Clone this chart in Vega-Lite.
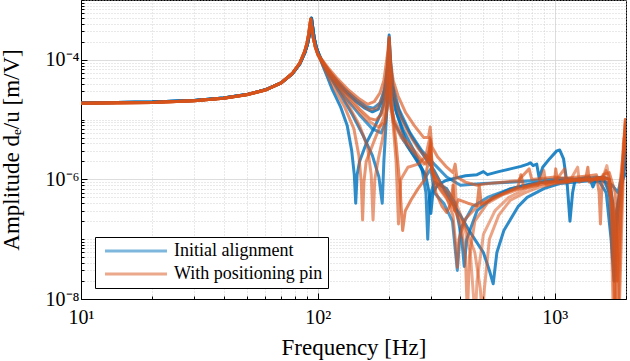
{
  "$schema": "https://vega.github.io/schema/vega-lite/v6.json",
  "width": 545,
  "height": 299,
  "autosize": {"type": "none"},
  "padding": {"left": 81, "top": 0, "right": 4, "bottom": 62},
  "background": "white",
  "config": {
    "view": {"stroke": "black", "strokeWidth": 1},
    "font": "Liberation Serif",
    "axis": {
      "labelFont": "Liberation Serif",
      "titleFont": "Liberation Serif",
      "labelFontSize": 20,
      "titleFontSize": 23,
      "titleFontWeight": "normal",
      "labelColor": "black",
      "titleColor": "black",
      "domainColor": "black",
      "tickColor": "black",
      "gridWidth": 0.8
    }
  },
  "datasets": {
    "series": [
      {"s": "B1", "g": "Initial alignment"},
      {"s": "B2", "g": "Initial alignment"},
      {"s": "B3", "g": "Initial alignment"},
      {"s": "B4", "g": "Initial alignment"},
      {"s": "B5", "g": "Initial alignment"},
      {"s": "O1", "g": "With positioning pin"},
      {"s": "O2", "g": "With positioning pin"},
      {"s": "O3", "g": "With positioning pin"},
      {"s": "O4", "g": "With positioning pin"},
      {"s": "O5", "g": "With positioning pin"},
      {"s": "O6", "g": "With positioning pin"}
    ],
    "curves": [
      {"s":"B2","f":10,"a":1.9e-5},{"s":"B2","f":20,"a":1.97e-5},{"s":"B2","f":30,"a":2.09e-5},{"s":"B2","f":40,"a":2.3e-5},{"s":"B2","f":50,"a":2.62e-5},{"s":"B2","f":60,"a":3.15e-5},{"s":"B2","f":70,"a":4.1e-5},{"s":"B2","f":78,"a":5.8e-5},{"s":"B2","f":84,"a":8.6e-5},{"s":"B2","f":88,"a":1.3e-4},{"s":"B2","f":90.5,"a":1.85e-4},{"s":"B2","f":92,"a":2.6e-4},{"s":"B2","f":93,"a":3.5e-4},{"s":"B2","f":94,"a":4.9e-4},{"s":"B2","f":95,"a":3.6e-4},{"s":"B2","f":96.5,"a":2.3e-4},{"s":"B2","f":98.5,"a":1.6e-4},{"s":"B2","f":101,"a":1.2e-4},
      {"s":"B2","f":105,"a":8e-5},{"s":"B2","f":110,"a":5e-5},{"s":"B2","f":115,"a":3.2e-5},{"s":"B2","f":125,"a":1.6e-5},{"s":"B2","f":133,"a":8e-6},{"s":"B2","f":139,"a":3e-6},{"s":"B2","f":142.5,"a":1.2e-6},{"s":"B2","f":144.5,"a":4e-7},{"s":"B2","f":146.5,"a":1.2e-6},{"s":"B2","f":150,"a":2e-6},{"s":"B2","f":160,"a":4e-6},{"s":"B2","f":175,"a":8e-6},{"s":"B2","f":185,"a":1.3e-5},{"s":"B2","f":193,"a":2.5e-5},{"s":"B2","f":197,"a":5e-5},{"s":"B2","f":200,"a":1.6e-4},{"s":"B2","f":203,"a":6e-5},{"s":"B2","f":210,"a":2.4e-5},{"s":"B2","f":225,"a":1.1e-5},{"s":"B2","f":250,"a":5e-6},{"s":"B2","f":280,"a":2.5e-6},{"s":"B2","f":310,"a":1.4e-6},{"s":"B2","f":340,"a":7e-7},{"s":"B2","f":370,"a":4e-7},{"s":"B2","f":400,"a":2.5e-7},{"s":"B2","f":440,"a":1.3e-7},{"s":"B2","f":500,"a":6e-8},{"s":"B2","f":530,"a":3e-8},{"s":"B2","f":550,"a":1.8e-8},{"s":"B2","f":570,"a":6e-8},{"s":"B2","f":610,"a":1.4e-7},{"s":"B2","f":700,"a":3.5e-7},{"s":"B2","f":765,"a":5e-7},{"s":"B2","f":900,"a":7e-7},{"s":"B2","f":1050,"a":8.5e-7},{"s":"B2","f":1200,"a":9e-7},{"s":"B2","f":1400,"a":9.5e-7},{"s":"B2","f":1550,"a":9e-7},{"s":"B2","f":1650,"a":6e-7},{"s":"B2","f":1730,"a":1e-7},{"s":"B2","f":1780,"a":2e-8},{"s":"B2","f":1830,"a":3e-7},{"s":"B2","f":1950,"a":1.2e-6},{"s":"B2","f":2000,"a":2e-6},

      {"s":"B3","f":10,"a":1.9e-5},{"s":"B3","f":20,"a":1.97e-5},{"s":"B3","f":30,"a":2.09e-5},{"s":"B3","f":40,"a":2.3e-5},{"s":"B3","f":50,"a":2.62e-5},{"s":"B3","f":60,"a":3.15e-5},{"s":"B3","f":70,"a":4.1e-5},{"s":"B3","f":78,"a":5.8e-5},{"s":"B3","f":84,"a":8.6e-5},{"s":"B3","f":88,"a":1.3e-4},{"s":"B3","f":90.5,"a":1.85e-4},{"s":"B3","f":92,"a":2.6e-4},{"s":"B3","f":93,"a":3.5e-4},{"s":"B3","f":94,"a":4.9e-4},{"s":"B3","f":95,"a":3.6e-4},{"s":"B3","f":96.5,"a":2.3e-4},{"s":"B3","f":98.5,"a":1.6e-4},{"s":"B3","f":101,"a":1.2e-4},
      {"s":"B3","f":105,"a":8.5e-5},{"s":"B3","f":115,"a":4.5e-5},{"s":"B3","f":125,"a":2.6e-5},{"s":"B3","f":140,"a":1.2e-5},{"s":"B3","f":155,"a":5.5e-6},{"s":"B3","f":170,"a":2.5e-6},{"s":"B3","f":181,"a":1.1e-6},{"s":"B3","f":187,"a":4e-7},{"s":"B3","f":190,"a":2e-6},{"s":"B3","f":195,"a":1.2e-5},{"s":"B3","f":200,"a":1.1e-4},{"s":"B3","f":204,"a":3.5e-5},{"s":"B3","f":212,"a":1.5e-5},{"s":"B3","f":230,"a":6.5e-6},{"s":"B3","f":255,"a":3e-6},{"s":"B3","f":275,"a":1.5e-6},{"s":"B3","f":286,"a":6e-7},{"s":"B3","f":291,"a":1e-7},{"s":"B3","f":296,"a":5e-7},{"s":"B3","f":310,"a":9e-7},{"s":"B3","f":350,"a":7e-7},{"s":"B3","f":380,"a":4e-7},{"s":"B3","f":405,"a":1e-7},{"s":"B3","f":415,"a":3.5e-8},{"s":"B3","f":425,"a":1e-7},{"s":"B3","f":470,"a":3e-7},{"s":"B3","f":550,"a":5e-7},{"s":"B3","f":650,"a":7e-7},{"s":"B3","f":800,"a":8.5e-7},{"s":"B3","f":1000,"a":9.5e-7},{"s":"B3","f":1200,"a":1e-6},{"s":"B3","f":1400,"a":1e-6},{"s":"B3","f":1600,"a":9.5e-7},{"s":"B3","f":1750,"a":8e-7},{"s":"B3","f":1850,"a":6e-7},{"s":"B3","f":1950,"a":1.5e-6},{"s":"B3","f":2000,"a":3e-6},

      {"s":"B4","f":10,"a":1.9e-5},{"s":"B4","f":20,"a":1.97e-5},{"s":"B4","f":30,"a":2.09e-5},{"s":"B4","f":40,"a":2.3e-5},{"s":"B4","f":50,"a":2.62e-5},{"s":"B4","f":60,"a":3.15e-5},{"s":"B4","f":70,"a":4.1e-5},{"s":"B4","f":78,"a":5.8e-5},{"s":"B4","f":84,"a":8.6e-5},{"s":"B4","f":88,"a":1.3e-4},{"s":"B4","f":90.5,"a":1.85e-4},{"s":"B4","f":92,"a":2.6e-4},{"s":"B4","f":93,"a":3.5e-4},{"s":"B4","f":94,"a":5e-4},{"s":"B4","f":95,"a":3.6e-4},{"s":"B4","f":96.5,"a":2.3e-4},{"s":"B4","f":98.5,"a":1.6e-4},{"s":"B4","f":101,"a":1.25e-4},
      {"s":"B4","f":105,"a":9e-5},{"s":"B4","f":115,"a":5.5e-5},{"s":"B4","f":130,"a":3.2e-5},{"s":"B4","f":145,"a":2.2e-5},{"s":"B4","f":160,"a":1.65e-5},{"s":"B4","f":172,"a":1.55e-5},{"s":"B4","f":183,"a":1.9e-5},{"s":"B4","f":191,"a":3.2e-5},{"s":"B4","f":197,"a":8e-5},{"s":"B4","f":200,"a":2.3e-4},{"s":"B4","f":203,"a":8e-5},{"s":"B4","f":208,"a":3.5e-5},{"s":"B4","f":220,"a":1.5e-5},{"s":"B4","f":245,"a":6e-6},{"s":"B4","f":275,"a":3e-6},{"s":"B4","f":310,"a":1.8e-6},{"s":"B4","f":350,"a":1.1e-6},{"s":"B4","f":400,"a":8e-7},{"s":"B4","f":500,"a":8.5e-7},{"s":"B4","f":650,"a":9e-7},{"s":"B4","f":800,"a":9.5e-7},{"s":"B4","f":950,"a":1e-6},{"s":"B4","f":1100,"a":1.05e-6},{"s":"B4","f":1300,"a":1e-6},{"s":"B4","f":1500,"a":1.1e-6},{"s":"B4","f":1600,"a":1.05e-6},{"s":"B4","f":1700,"a":6e-7},{"s":"B4","f":1760,"a":5e-8},{"s":"B4","f":1800,"a":3e-8},{"s":"B4","f":1850,"a":3e-7},{"s":"B4","f":1950,"a":1.3e-6},{"s":"B4","f":2000,"a":2e-6},

      {"s":"B5","f":10,"a":1.9e-5},{"s":"B5","f":20,"a":1.97e-5},{"s":"B5","f":30,"a":2.09e-5},{"s":"B5","f":40,"a":2.3e-5},{"s":"B5","f":50,"a":2.62e-5},{"s":"B5","f":60,"a":3.15e-5},{"s":"B5","f":70,"a":4.1e-5},{"s":"B5","f":78,"a":5.8e-5},{"s":"B5","f":84,"a":8.6e-5},{"s":"B5","f":88,"a":1.3e-4},{"s":"B5","f":90.5,"a":1.85e-4},{"s":"B5","f":92,"a":2.6e-4},{"s":"B5","f":93,"a":3.5e-4},{"s":"B5","f":94,"a":4.8e-4},{"s":"B5","f":95,"a":3.6e-4},{"s":"B5","f":96.5,"a":2.3e-4},{"s":"B5","f":98.5,"a":1.6e-4},{"s":"B5","f":101,"a":1.2e-4},
      {"s":"B5","f":105,"a":8.5e-5},{"s":"B5","f":115,"a":4.8e-5},{"s":"B5","f":130,"a":2.4e-5},{"s":"B5","f":150,"a":1.2e-5},{"s":"B5","f":170,"a":7e-6},{"s":"B5","f":185,"a":6e-6},{"s":"B5","f":193,"a":9e-6},{"s":"B5","f":198,"a":2.5e-5},{"s":"B5","f":200,"a":5e-5},{"s":"B5","f":202,"a":2e-5},{"s":"B5","f":210,"a":9e-6},{"s":"B5","f":230,"a":4.5e-6},{"s":"B5","f":260,"a":2.2e-6},{"s":"B5","f":285,"a":1.1e-6},{"s":"B5","f":300,"a":1.5e-6},{"s":"B5","f":310,"a":6e-7},{"s":"B5","f":340,"a":4e-7},{"s":"B5","f":370,"a":2e-7},{"s":"B5","f":388,"a":3e-8},{"s":"B5","f":400,"a":1.5e-7},{"s":"B5","f":450,"a":3.5e-7},{"s":"B5","f":520,"a":5e-7},{"s":"B5","f":620,"a":6.5e-7},{"s":"B5","f":750,"a":8e-7},{"s":"B5","f":900,"a":9e-7},{"s":"B5","f":1100,"a":9.5e-7},{"s":"B5","f":1300,"a":1e-6},{"s":"B5","f":1500,"a":1e-6},{"s":"B5","f":1650,"a":9e-7},{"s":"B5","f":1750,"a":4e-7},{"s":"B5","f":1790,"a":2e-8},{"s":"B5","f":1830,"a":2e-7},{"s":"B5","f":1940,"a":1.5e-6},{"s":"B5","f":2000,"a":4e-6},

      {"s":"B1","f":10,"a":1.9e-5},{"s":"B1","f":20,"a":1.97e-5},{"s":"B1","f":30,"a":2.09e-5},{"s":"B1","f":40,"a":2.3e-5},{"s":"B1","f":50,"a":2.62e-5},{"s":"B1","f":60,"a":3.15e-5},{"s":"B1","f":70,"a":4.1e-5},{"s":"B1","f":78,"a":5.8e-5},{"s":"B1","f":84,"a":8.6e-5},{"s":"B1","f":88,"a":1.3e-4},{"s":"B1","f":90.5,"a":1.85e-4},{"s":"B1","f":92,"a":2.6e-4},{"s":"B1","f":93,"a":3.5e-4},{"s":"B1","f":94,"a":5e-4},{"s":"B1","f":95,"a":3.6e-4},{"s":"B1","f":96.5,"a":2.3e-4},{"s":"B1","f":98.5,"a":1.6e-4},{"s":"B1","f":101,"a":1.25e-4},
      {"s":"B1","f":105,"a":8.5e-5},{"s":"B1","f":112,"a":5.8e-5},{"s":"B1","f":120,"a":4.2e-5},{"s":"B1","f":132,"a":2.8e-5},{"s":"B1","f":145,"a":2.0e-5},{"s":"B1","f":158,"a":1.55e-5},{"s":"B1","f":170,"a":1.35e-5},{"s":"B1","f":180,"a":1.5e-5},{"s":"B1","f":188,"a":2.2e-5},{"s":"B1","f":194,"a":4e-5},{"s":"B1","f":198,"a":1e-4},{"s":"B1","f":200,"a":2.6e-4},{"s":"B1","f":202,"a":1.2e-4},{"s":"B1","f":206,"a":4e-5},{"s":"B1","f":215,"a":1.3e-5},{"s":"B1","f":238,"a":3.7e-6},{"s":"B1","f":270,"a":1.7e-6},{"s":"B1","f":285,"a":1.2e-6},{"s":"B1","f":295,"a":6e-7},{"s":"B1","f":300,"a":2.7e-7},{"s":"B1","f":306,"a":6e-7},{"s":"B1","f":320,"a":8e-7},{"s":"B1","f":345,"a":9.5e-7},{"s":"B1","f":380,"a":1.05e-6},{"s":"B1","f":420,"a":1.15e-6},{"s":"B1","f":470,"a":1.2e-6},{"s":"B1","f":500,"a":1.35e-6},{"s":"B1","f":520,"a":1.2e-6},{"s":"B1","f":580,"a":1.35e-6},{"s":"B1","f":650,"a":1.5e-6},{"s":"B1","f":720,"a":1.65e-6},{"s":"B1","f":770,"a":1.8e-6},{"s":"B1","f":790,"a":1.9e-6},{"s":"B1","f":810,"a":1.7e-6},{"s":"B1","f":840,"a":1.8e-6},{"s":"B1","f":860,"a":1.05e-6},{"s":"B1","f":890,"a":1.6e-6},{"s":"B1","f":950,"a":2.2e-6},{"s":"B1","f":1020,"a":3.0e-6},{"s":"B1","f":1050,"a":3.1e-6},{"s":"B1","f":1090,"a":2.2e-6},{"s":"B1","f":1130,"a":8e-7},{"s":"B1","f":1160,"a":2e-7},{"s":"B1","f":1190,"a":6e-7},{"s":"B1","f":1220,"a":1e-6},{"s":"B1","f":1300,"a":1.05e-6},{"s":"B1","f":1400,"a":1.1e-6},{"s":"B1","f":1450,"a":7.5e-7},{"s":"B1","f":1500,"a":1.05e-6},{"s":"B1","f":1600,"a":1.1e-6},{"s":"B1","f":1700,"a":1e-6},{"s":"B1","f":1760,"a":4e-7},{"s":"B1","f":1800,"a":2.5e-8},{"s":"B1","f":1830,"a":3e-7},{"s":"B1","f":1900,"a":8e-7},{"s":"B1","f":1960,"a":1.1e-6},{"s":"B1","f":2000,"a":1.3e-6},

      {"s":"O2","f":10,"a":1.87e-5},{"s":"O2","f":20,"a":1.94e-5},{"s":"O2","f":30,"a":2.06e-5},{"s":"O2","f":40,"a":2.27e-5},{"s":"O2","f":50,"a":2.6e-5},{"s":"O2","f":60,"a":3.12e-5},{"s":"O2","f":70,"a":4.1e-5},{"s":"O2","f":78,"a":5.9e-5},{"s":"O2","f":84,"a":8.9e-5},{"s":"O2","f":88,"a":1.38e-4},{"s":"O2","f":90,"a":1.9e-4},{"s":"O2","f":91.5,"a":2.7e-4},{"s":"O2","f":92.5,"a":3.7e-4},{"s":"O2","f":93.3,"a":4.8e-4},{"s":"O2","f":94.2,"a":3.6e-4},{"s":"O2","f":95.5,"a":2.4e-4},{"s":"O2","f":97.5,"a":1.65e-4},{"s":"O2","f":100,"a":1.25e-4},
      {"s":"O2","f":103,"a":1.05e-4},{"s":"O2","f":110,"a":7.5e-5},{"s":"O2","f":120,"a":5e-5},{"s":"O2","f":135,"a":3.1e-5},{"s":"O2","f":150,"a":2.2e-5},{"s":"O2","f":162,"a":1.8e-5},{"s":"O2","f":173,"a":2e-5},{"s":"O2","f":183,"a":2.8e-5},{"s":"O2","f":190,"a":4.5e-5},{"s":"O2","f":196,"a":1.1e-4},{"s":"O2","f":200,"a":2.3e-4},{"s":"O2","f":203,"a":9e-5},{"s":"O2","f":208,"a":4.5e-5},{"s":"O2","f":218,"a":2.5e-5},{"s":"O2","f":235,"a":1.3e-5},{"s":"O2","f":255,"a":8e-6},{"s":"O2","f":280,"a":5e-6},{"s":"O2","f":293,"a":5e-6},{"s":"O2","f":298,"a":7.5e-6},{"s":"O2","f":303,"a":3.5e-6},{"s":"O2","f":320,"a":2.4e-6},{"s":"O2","f":350,"a":1.6e-6},{"s":"O2","f":372,"a":1.3e-6},{"s":"O2","f":380,"a":1.8e-6},{"s":"O2","f":386,"a":1.1e-6},{"s":"O2","f":420,"a":9e-7},{"s":"O2","f":470,"a":8e-7},{"s":"O2","f":520,"a":8.5e-7},{"s":"O2","f":600,"a":9e-7},{"s":"O2","f":700,"a":9.5e-7},{"s":"O2","f":780,"a":1.5e-6},{"s":"O2","f":800,"a":1e-6},{"s":"O2","f":900,"a":1.05e-6},{"s":"O2","f":1000,"a":1.1e-6},{"s":"O2","f":1100,"a":1.05e-6},{"s":"O2","f":1250,"a":1.1e-6},{"s":"O2","f":1400,"a":1.15e-6},{"s":"O2","f":1500,"a":1.2e-6},{"s":"O2","f":1540,"a":6e-7},{"s":"O2","f":1560,"a":1.8e-7},{"s":"O2","f":1580,"a":7e-7},{"s":"O2","f":1600,"a":1.2e-6},{"s":"O2","f":1700,"a":1.3e-6},{"s":"O2","f":1800,"a":6e-7},{"s":"O2","f":1880,"a":1e-8},{"s":"O2","f":1920,"a":2e-7},{"s":"O2","f":1970,"a":5e-6},{"s":"O2","f":1990,"a":9e-6},{"s":"O2","f":2000,"a":6e-6},

      {"s":"O3","f":10,"a":1.87e-5},{"s":"O3","f":20,"a":1.94e-5},{"s":"O3","f":30,"a":2.06e-5},{"s":"O3","f":40,"a":2.27e-5},{"s":"O3","f":50,"a":2.6e-5},{"s":"O3","f":60,"a":3.12e-5},{"s":"O3","f":70,"a":4.1e-5},{"s":"O3","f":78,"a":5.9e-5},{"s":"O3","f":84,"a":8.9e-5},{"s":"O3","f":88,"a":1.38e-4},{"s":"O3","f":90,"a":1.9e-4},{"s":"O3","f":91.5,"a":2.7e-4},{"s":"O3","f":92.5,"a":3.7e-4},{"s":"O3","f":93.3,"a":4.7e-4},{"s":"O3","f":94.2,"a":3.6e-4},{"s":"O3","f":95.5,"a":2.4e-4},{"s":"O3","f":97.5,"a":1.65e-4},{"s":"O3","f":100,"a":1.2e-4},
      {"s":"O3","f":105,"a":8.2e-5},{"s":"O3","f":110,"a":5.5e-5},{"s":"O3","f":118,"a":3.2e-5},{"s":"O3","f":130,"a":1.6e-5},{"s":"O3","f":142,"a":7e-6},{"s":"O3","f":149,"a":2.5e-6},{"s":"O3","f":152.5,"a":9e-7},{"s":"O3","f":154.5,"a":2.1e-7},{"s":"O3","f":156.5,"a":9e-7},{"s":"O3","f":160,"a":2e-6},{"s":"O3","f":175,"a":5e-6},{"s":"O3","f":190,"a":1.1e-5},{"s":"O3","f":197,"a":3e-5},{"s":"O3","f":200,"a":9e-5},{"s":"O3","f":203,"a":2.5e-5},{"s":"O3","f":208,"a":8e-6},{"s":"O3","f":214,"a":2e-6},{"s":"O3","f":219,"a":1.8e-7},{"s":"O3","f":224,"a":1e-6},{"s":"O3","f":240,"a":1.6e-6},{"s":"O3","f":265,"a":1.8e-6},{"s":"O3","f":285,"a":2.4e-6},{"s":"O3","f":297,"a":5e-6},{"s":"O3","f":302,"a":1.5e-6},{"s":"O3","f":320,"a":8e-7},{"s":"O3","f":350,"a":5e-7},{"s":"O3","f":372,"a":2.5e-7},{"s":"O3","f":382,"a":8e-8},{"s":"O3","f":388,"a":3.4e-8},{"s":"O3","f":394,"a":1e-7},{"s":"O3","f":420,"a":2.2e-7},{"s":"O3","f":470,"a":3.5e-7},{"s":"O3","f":550,"a":5e-7},{"s":"O3","f":650,"a":6.5e-7},{"s":"O3","f":800,"a":8e-7},{"s":"O3","f":1000,"a":9e-7},{"s":"O3","f":1100,"a":1.5e-6},{"s":"O3","f":1120,"a":9e-7},{"s":"O3","f":1200,"a":9.5e-7},{"s":"O3","f":1400,"a":1e-6},{"s":"O3","f":1600,"a":1.05e-6},{"s":"O3","f":1700,"a":1e-6},{"s":"O3","f":1790,"a":2e-7},{"s":"O3","f":1830,"a":2e-8},{"s":"O3","f":1870,"a":4e-7},{"s":"O3","f":1950,"a":2e-6},{"s":"O3","f":2000,"a":5e-6},

      {"s":"O4","f":10,"a":1.87e-5},{"s":"O4","f":20,"a":1.94e-5},{"s":"O4","f":30,"a":2.06e-5},{"s":"O4","f":40,"a":2.27e-5},{"s":"O4","f":50,"a":2.6e-5},{"s":"O4","f":60,"a":3.12e-5},{"s":"O4","f":70,"a":4.1e-5},{"s":"O4","f":78,"a":5.9e-5},{"s":"O4","f":84,"a":8.9e-5},{"s":"O4","f":88,"a":1.38e-4},{"s":"O4","f":90,"a":1.9e-4},{"s":"O4","f":91.5,"a":2.7e-4},{"s":"O4","f":92.5,"a":3.7e-4},{"s":"O4","f":93.3,"a":4.8e-4},{"s":"O4","f":94.2,"a":3.6e-4},{"s":"O4","f":95.5,"a":2.4e-4},{"s":"O4","f":97.5,"a":1.65e-4},{"s":"O4","f":100,"a":1.22e-4},
      {"s":"O4","f":105,"a":8.5e-5},{"s":"O4","f":112,"a":5.5e-5},{"s":"O4","f":122,"a":3.3e-5},{"s":"O4","f":135,"a":1.7e-5},{"s":"O4","f":150,"a":8e-6},{"s":"O4","f":162,"a":3.5e-6},{"s":"O4","f":168,"a":1.2e-6},{"s":"O4","f":171,"a":2.1e-7},{"s":"O4","f":174,"a":1e-6},{"s":"O4","f":180,"a":2.2e-6},{"s":"O4","f":188,"a":5e-6},{"s":"O4","f":196,"a":1.6e-5},{"s":"O4","f":200,"a":6e-5},{"s":"O4","f":203,"a":2e-5},{"s":"O4","f":210,"a":1e-5},{"s":"O4","f":230,"a":5e-6},{"s":"O4","f":260,"a":2.8e-6},{"s":"O4","f":285,"a":1.8e-6},{"s":"O4","f":297,"a":3e-6},{"s":"O4","f":303,"a":1.3e-6},{"s":"O4","f":330,"a":8e-7},{"s":"O4","f":370,"a":4e-7},{"s":"O4","f":405,"a":1.5e-7},{"s":"O4","f":420,"a":5e-8},{"s":"O4","f":428,"a":5e-9},{"s":"O4","f":436,"a":5e-8},{"s":"O4","f":460,"a":2e-7},{"s":"O4","f":520,"a":4e-7},{"s":"O4","f":600,"a":5.5e-7},{"s":"O4","f":720,"a":7e-7},{"s":"O4","f":850,"a":8e-7},{"s":"O4","f":900,"a":1.4e-6},{"s":"O4","f":920,"a":8e-7},{"s":"O4","f":1000,"a":8.8e-7},{"s":"O4","f":1200,"a":9.5e-7},{"s":"O4","f":1400,"a":1e-6},{"s":"O4","f":1600,"a":1.05e-6},{"s":"O4","f":1650,"a":1.4e-6},{"s":"O4","f":1700,"a":1e-6},{"s":"O4","f":1760,"a":1e-7},{"s":"O4","f":1790,"a":5e-9},{"s":"O4","f":1830,"a":3e-7},{"s":"O4","f":1930,"a":2e-6},{"s":"O4","f":2000,"a":6e-6},

      {"s":"O5","f":10,"a":1.87e-5},{"s":"O5","f":20,"a":1.94e-5},{"s":"O5","f":30,"a":2.06e-5},{"s":"O5","f":40,"a":2.27e-5},{"s":"O5","f":50,"a":2.6e-5},{"s":"O5","f":60,"a":3.12e-5},{"s":"O5","f":70,"a":4.1e-5},{"s":"O5","f":78,"a":5.9e-5},{"s":"O5","f":84,"a":8.9e-5},{"s":"O5","f":88,"a":1.38e-4},{"s":"O5","f":90,"a":1.9e-4},{"s":"O5","f":91.5,"a":2.7e-4},{"s":"O5","f":92.5,"a":3.7e-4},{"s":"O5","f":93.3,"a":4.7e-4},{"s":"O5","f":94.2,"a":3.6e-4},{"s":"O5","f":95.5,"a":2.4e-4},{"s":"O5","f":97.5,"a":1.65e-4},{"s":"O5","f":100,"a":1.22e-4},
      {"s":"O5","f":104,"a":9.5e-5},{"s":"O5","f":112,"a":5.8e-5},{"s":"O5","f":125,"a":3.2e-5},{"s":"O5","f":140,"a":1.8e-5},{"s":"O5","f":160,"a":1e-5},{"s":"O5","f":180,"a":7.5e-6},{"s":"O5","f":192,"a":9e-6},{"s":"O5","f":198,"a":2e-5},{"s":"O5","f":200,"a":4.5e-5},{"s":"O5","f":202,"a":1.8e-5},{"s":"O5","f":208,"a":9e-6},{"s":"O5","f":225,"a":5e-6},{"s":"O5","f":250,"a":3e-6},{"s":"O5","f":280,"a":1.8e-6},{"s":"O5","f":296,"a":2.2e-6},{"s":"O5","f":300,"a":4e-6},{"s":"O5","f":305,"a":1.2e-6},{"s":"O5","f":330,"a":6.5e-7},{"s":"O5","f":370,"a":3.5e-7},{"s":"O5","f":420,"a":1.6e-7},{"s":"O5","f":460,"a":6e-8},{"s":"O5","f":485,"a":1.5e-8},{"s":"O5","f":495,"a":5e-9},{"s":"O5","f":505,"a":1.5e-8},{"s":"O5","f":530,"a":1e-7},{"s":"O5","f":580,"a":2.5e-7},{"s":"O5","f":650,"a":4.5e-7},{"s":"O5","f":750,"a":6e-7},{"s":"O5","f":870,"a":7.5e-7},{"s":"O5","f":1000,"a":8.5e-7},{"s":"O5","f":1150,"a":9e-7},{"s":"O5","f":1250,"a":1.6e-6},{"s":"O5","f":1270,"a":9e-7},{"s":"O5","f":1300,"a":9.5e-7},{"s":"O5","f":1500,"a":1e-6},{"s":"O5","f":1650,"a":1e-6},{"s":"O5","f":1720,"a":5e-7},{"s":"O5","f":1760,"a":1e-8},{"s":"O5","f":1800,"a":5e-9},{"s":"O5","f":1850,"a":1e-7},{"s":"O5","f":1950,"a":4e-6},{"s":"O5","f":2000,"a":8e-6},

      {"s":"O6","f":10,"a":1.87e-5},{"s":"O6","f":20,"a":1.94e-5},{"s":"O6","f":30,"a":2.06e-5},{"s":"O6","f":40,"a":2.27e-5},{"s":"O6","f":50,"a":2.6e-5},{"s":"O6","f":60,"a":3.12e-5},{"s":"O6","f":70,"a":4.1e-5},{"s":"O6","f":78,"a":5.9e-5},{"s":"O6","f":84,"a":8.9e-5},{"s":"O6","f":88,"a":1.38e-4},{"s":"O6","f":90,"a":1.9e-4},{"s":"O6","f":91.5,"a":2.7e-4},{"s":"O6","f":92.5,"a":3.7e-4},{"s":"O6","f":93.3,"a":4.8e-4},{"s":"O6","f":94.2,"a":3.6e-4},{"s":"O6","f":95.5,"a":2.4e-4},{"s":"O6","f":97.5,"a":1.65e-4},{"s":"O6","f":100,"a":1.25e-4},
      {"s":"O6","f":103,"a":1.02e-4},{"s":"O6","f":110,"a":7e-5},{"s":"O6","f":120,"a":4.6e-5},{"s":"O6","f":135,"a":2.8e-5},{"s":"O6","f":150,"a":1.9e-5},{"s":"O6","f":165,"a":1.45e-5},{"s":"O6","f":178,"a":1.55e-5},{"s":"O6","f":188,"a":2.4e-5},{"s":"O6","f":195,"a":5.5e-5},{"s":"O6","f":200,"a":2e-4},{"s":"O6","f":203,"a":7e-5},{"s":"O6","f":208,"a":3e-5},{"s":"O6","f":220,"a":1.3e-5},{"s":"O6","f":240,"a":6e-6},{"s":"O6","f":265,"a":3.3e-6},{"s":"O6","f":290,"a":2.2e-6},{"s":"O6","f":298,"a":3.5e-6},{"s":"O6","f":303,"a":1.5e-6},{"s":"O6","f":330,"a":8.5e-7},{"s":"O6","f":372,"a":5e-7},{"s":"O6","f":378,"a":1.2e-6},{"s":"O6","f":384,"a":4e-7},{"s":"O6","f":410,"a":2e-7},{"s":"O6","f":440,"a":6e-8},{"s":"O6","f":455,"a":1e-8},{"s":"O6","f":462,"a":5e-9},{"s":"O6","f":470,"a":2e-8},{"s":"O6","f":500,"a":1.2e-7},{"s":"O6","f":560,"a":3e-7},{"s":"O6","f":640,"a":5e-7},{"s":"O6","f":760,"a":7e-7},{"s":"O6","f":900,"a":8.5e-7},{"s":"O6","f":1050,"a":9.5e-7},{"s":"O6","f":1250,"a":1e-6},{"s":"O6","f":1450,"a":1.05e-6},{"s":"O6","f":1600,"a":1.1e-6},{"s":"O6","f":1660,"a":1.7e-6},{"s":"O6","f":1700,"a":1e-6},{"s":"O6","f":1780,"a":3e-7},{"s":"O6","f":1840,"a":2e-8},{"s":"O6","f":1880,"a":1e-7},{"s":"O6","f":1960,"a":4e-6},{"s":"O6","f":1990,"a":1e-5},{"s":"O6","f":2000,"a":7e-6},

      {"s":"O1","f":10,"a":1.87e-5},{"s":"O1","f":20,"a":1.94e-5},{"s":"O1","f":30,"a":2.06e-5},{"s":"O1","f":40,"a":2.27e-5},{"s":"O1","f":50,"a":2.6e-5},{"s":"O1","f":60,"a":3.12e-5},{"s":"O1","f":70,"a":4.1e-5},{"s":"O1","f":78,"a":5.9e-5},{"s":"O1","f":84,"a":8.9e-5},{"s":"O1","f":88,"a":1.38e-4},{"s":"O1","f":90,"a":1.9e-4},{"s":"O1","f":91.5,"a":2.7e-4},{"s":"O1","f":92.5,"a":3.7e-4},{"s":"O1","f":93.3,"a":4.8e-4},{"s":"O1","f":94.2,"a":3.6e-4},{"s":"O1","f":95.5,"a":2.4e-4},{"s":"O1","f":97.5,"a":1.65e-4},{"s":"O1","f":100,"a":1.25e-4},
      {"s":"O1","f":104,"a":1.0e-4},{"s":"O1","f":110,"a":7e-5},{"s":"O1","f":120,"a":4.3e-5},{"s":"O1","f":135,"a":2.4e-5},{"s":"O1","f":150,"a":1.5e-5},{"s":"O1","f":165,"a":1.05e-5},{"s":"O1","f":176,"a":9.8e-6},{"s":"O1","f":185,"a":1.2e-5},{"s":"O1","f":192,"a":2.2e-5},{"s":"O1","f":197,"a":6e-5},{"s":"O1","f":200,"a":2.4e-4},{"s":"O1","f":202,"a":6e-5},{"s":"O1","f":206,"a":1.5e-5},{"s":"O1","f":214,"a":4e-6},{"s":"O1","f":222,"a":8e-7},{"s":"O1","f":228,"a":1.4e-7},{"s":"O1","f":234,"a":3e-7},{"s":"O1","f":248,"a":4.6e-7},{"s":"O1","f":265,"a":7e-7},{"s":"O1","f":283,"a":1e-6},{"s":"O1","f":293,"a":2e-6},{"s":"O1","f":299,"a":4.6e-6},{"s":"O1","f":304,"a":1.5e-6},{"s":"O1","f":315,"a":6e-7},{"s":"O1","f":335,"a":3.5e-7},{"s":"O1","f":350,"a":2.8e-7},{"s":"O1","f":365,"a":4e-7},{"s":"O1","f":372,"a":8e-7},{"s":"O1","f":378,"a":3e-7},{"s":"O1","f":392,"a":4.6e-7},{"s":"O1","f":430,"a":4e-7},{"s":"O1","f":470,"a":3.6e-7},{"s":"O1","f":480,"a":8e-7},{"s":"O1","f":490,"a":3.8e-7},{"s":"O1","f":575,"a":5.2e-7},{"s":"O1","f":650,"a":6.5e-7},{"s":"O1","f":700,"a":7.5e-7},{"s":"O1","f":720,"a":1.2e-6},{"s":"O1","f":740,"a":7.5e-7},{"s":"O1","f":830,"a":8.5e-7},{"s":"O1","f":900,"a":9e-7},{"s":"O1","f":1000,"a":9.5e-7},{"s":"O1","f":1010,"a":1.5e-6},{"s":"O1","f":1030,"a":9e-7},{"s":"O1","f":1200,"a":1e-6},{"s":"O1","f":1350,"a":1e-6},{"s":"O1","f":1380,"a":1.6e-6},{"s":"O1","f":1400,"a":9e-7},{"s":"O1","f":1500,"a":1.05e-6},{"s":"O1","f":1600,"a":1.1e-6},{"s":"O1","f":1700,"a":1e-6},{"s":"O1","f":1760,"a":3e-7},{"s":"O1","f":1800,"a":1e-8},{"s":"O1","f":1850,"a":5e-9},{"s":"O1","f":1900,"a":2e-7},{"s":"O1","f":1950,"a":3e-6},{"s":"O1","f":1985,"a":1e-5},{"s":"O1","f":2000,"a":4e-6}
    ]
  },
  "data": {"name": "curves"},
  "transform": [
    {"lookup": "s", "from": {"data": {"name": "series"}, "key": "s", "fields": ["g"]}}
  ],
  "mark": {"type": "line", "strokeWidth": 3, "clip": true, "strokeJoin": "round"},
  "encoding": {
    "x": {
      "field": "f", "type": "quantitative",
      "scale": {"type": "log", "domain": [10, 2000], "nice": false},
      "axis": {
        "title": "Frequency [Hz]",
        "titlePadding": 6,
        "values": [10,20,30,40,50,60,70,80,90,100,200,300,400,500,600,700,800,900,1000,2000],
        "labelExpr": "datum.value == 10 ? '10¹' : datum.value == 100 ? '10²' : datum.value == 1000 ? '10³' : ''",
        "labelPadding": 14,
        "labelOverlap": false,
        "labelFlush": false,
        "grid": true,
        "gridColor": {"condition": {"test": "datum.value == 10 || datum.value == 100 || datum.value == 1000", "value": "#d4d4d4"}, "value": "#c8c8c8"},
        "gridDash": {"condition": {"test": "datum.value == 10 || datum.value == 100 || datum.value == 1000", "value": []}, "value": [1, 2]},
        "tickSize": {"condition": {"test": "datum.value == 10 || datum.value == 100 || datum.value == 1000", "value": -6}, "value": -3},
        "domainColor": "black"
      }
    },
    "y": {
      "field": "a", "type": "quantitative",
      "scale": {"type": "log", "domain": [1e-8, 1e-3], "nice": false},
      "axis": {
        "title": "Amplitude dₑ/u [m/V]",
        "titlePadding": 22,
        "values": [1e-8,2e-8,3e-8,4e-8,5e-8,6e-8,7e-8,8e-8,9e-8,1e-7,2e-7,3e-7,4e-7,5e-7,6e-7,7e-7,8e-7,9e-7,1e-6,2e-6,3e-6,4e-6,5e-6,6e-6,7e-6,8e-6,9e-6,1e-5,2e-5,3e-5,4e-5,5e-5,6e-5,7e-5,8e-5,9e-5,1e-4,2e-4,3e-4,4e-4,5e-4,6e-4,7e-4,8e-4,9e-4,1e-3],
        "labelExpr": "abs(log(datum.value)/LN10 + 8) < 0.01 ? '10⁻⁸' : abs(log(datum.value)/LN10 + 6) < 0.01 ? '10⁻⁶' : abs(log(datum.value)/LN10 + 4) < 0.01 ? '10⁻⁴' : ''",
        "labelPadding": 8,
        "labelOverlap": false,
        "labelFlush": false,
        "grid": true,
        "gridColor": {"condition": {"test": "abs(log(datum.value)/LN10 + 8) < 0.01 || abs(log(datum.value)/LN10 + 6) < 0.01 || abs(log(datum.value)/LN10 + 4) < 0.01", "value": "#d4d4d4"}, "value": "#c8c8c8"},
        "gridDash": {"condition": {"test": "abs(log(datum.value)/LN10 + 8) < 0.01 || abs(log(datum.value)/LN10 + 6) < 0.01 || abs(log(datum.value)/LN10 + 4) < 0.01", "value": []}, "value": [1, 2]},
        "tickSize": {"condition": {"test": "abs(log(datum.value)/LN10 + 8) < 0.01 || abs(log(datum.value)/LN10 + 6) < 0.01 || abs(log(datum.value)/LN10 + 4) < 0.01", "value": -6}, "value": -3},
        "domainColor": "black"
      }
    },
    "color": {
      "field": "g", "type": "nominal",
      "scale": {"domain": ["Initial alignment", "With positioning pin"], "range": ["#0072BD", "#D95319"]},
      "legend": {
        "title": null,
        "orient": "none",
        "legendX": 14,
        "legendY": 237,
        "direction": "vertical",
        "symbolType": "M-0.8,0H11.6",
        "symbolSize": 100,
        "symbolStrokeWidth": 3,
        "symbolOpacity": 0.5,
        "labelFont": "Liberation Serif",
        "labelFontSize": 18,
        "labelLimit": 400,
        "labelColor": "black",
        "labelOffset": 56,
        "strokeColor": "black",
        "fillColor": "white",
        "padding": 5,
        "rowPadding": 5,
        "cornerRadius": 0
      }
    },
    "detail": {"field": "s"},
    "opacity": {
      "field": "s", "type": "nominal",
      "scale": {"domain": ["B1","B2","B3","B4","B5","O1","O2","O3","O4","O5","O6"], "range": [0.85,0.5,0.5,0.5,0.5,0.9,0.5,0.5,0.5,0.5,0.5]},
      "legend": null
    }
  }
}
